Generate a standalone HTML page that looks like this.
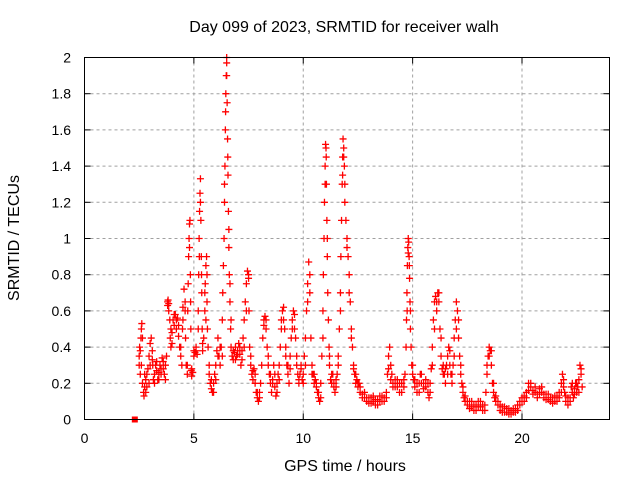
<!DOCTYPE html>
<html><head><meta charset="utf-8"><style>
body{margin:0;background:#fff}
svg{display:block;font-family:"Liberation Sans",sans-serif}
</style></head><body>
<svg id="chart" width="640" height="480" viewBox="0 0 640 480" xmlns="http://www.w3.org/2000/svg">
<rect width="640" height="480" fill="#fff"/>
<g id="grid"></g>
<g id="points"></g>
<rect x="84.5" y="57.5" width="525" height="362" fill="none" stroke="#000" stroke-width="1"/>
<g id="axes"></g>
<text x="344" y="32" font-size="16" text-anchor="middle">Day 099 of 2023, SRMTID for receiver walh</text>
<text x="345" y="471" font-size="16" text-anchor="middle">GPS time / hours</text>
<text transform="translate(19,238) rotate(-90)" font-size="16" text-anchor="middle">SRMTID / TECUs</text>
</svg>
<script>
const xTicks=[0,5,10,15,20];
const yTicks=[0,0.2,0.4,0.6,0.8,1,1.2,1.4,1.6,1.8,2];
const yTickLabels=["0","0.2","0.4","0.6","0.8","1","1.2","1.4","1.6","1.8","2"];
const times=[2.5,2.5,2.52,2.55,2.58,2.6,2.62,2.65,2.7,2.72,2.75,2.8,2.85,2.9,2.95,3.0,3.05,3.1,3.12,3.15,3.2,3.25,3.3,3.35,3.4,3.45,3.5,3.55,3.6,3.65,3.7,3.75,3.8,3.82,3.85,3.9,3.92,3.95,4.0,4.05,4.1,4.15,4.2,4.25,4.3,4.35,4.4,4.45,4.48,4.5,4.55,4.6,4.62,4.65,4.7,4.72,4.74,4.76,4.78,4.8,4.82,4.84,4.86,4.88,4.9,4.95,5.0,5.05,5.1,5.15,5.2,5.22,5.24,5.26,5.28,5.3,5.32,5.34,5.36,5.38,5.4,5.45,5.5,5.52,5.55,5.58,5.6,5.62,5.65,5.7,5.75,5.8,5.85,5.9,5.95,6.0,6.05,6.1,6.15,6.2,6.25,6.3,6.32,6.35,6.38,6.4,6.42,6.44,6.46,6.48,6.5,6.5,6.52,6.54,6.56,6.58,6.6,6.62,6.65,6.68,6.7,6.75,6.8,6.85,6.9,6.95,7.0,7.05,7.1,7.15,7.2,7.25,7.3,7.35,7.4,7.45,7.5,7.52,7.55,7.6,7.65,7.7,7.75,7.8,7.85,7.9,7.95,8.0,8.05,8.1,8.15,8.2,8.25,8.3,8.35,8.4,8.45,8.5,8.55,8.6,8.65,8.7,8.75,8.8,8.85,8.9,8.95,9.0,9.05,9.1,9.15,9.2,9.25,9.3,9.35,9.4,9.45,9.5,9.55,9.6,9.65,9.7,9.75,9.8,9.85,9.9,9.95,10.0,10.05,10.1,10.15,10.2,10.25,10.3,10.35,10.4,10.45,10.5,10.55,10.6,10.65,10.7,10.75,10.8,10.85,10.9,10.92,10.95,10.97,11.0,11.02,11.04,11.06,11.08,11.1,11.12,11.15,11.18,11.2,11.25,11.3,11.35,11.4,11.45,11.5,11.55,11.6,11.65,11.7,11.72,11.75,11.78,11.8,11.82,11.85,11.88,11.9,11.95,12.0,12.05,12.1,12.15,12.2,12.25,12.3,12.35,12.4,12.45,12.5,12.55,12.6,12.7,12.8,12.9,13.0,13.1,13.2,13.3,13.4,13.5,13.6,13.7,13.8,13.85,13.9,13.95,14.0,14.05,14.1,14.2,14.3,14.4,14.5,14.6,14.65,14.7,14.72,14.74,14.76,14.78,14.8,14.82,14.84,14.86,14.88,14.9,14.93,14.96,15.0,15.05,15.1,15.2,15.3,15.35,15.4,15.5,15.6,15.7,15.75,15.8,15.85,15.9,15.95,16.0,16.05,16.1,16.15,16.2,16.25,16.3,16.35,16.4,16.45,16.5,16.55,16.6,16.65,16.7,16.75,16.8,16.85,16.9,16.95,17.0,17.05,17.1,17.15,17.2,17.25,17.3,17.35,17.4,17.5,17.6,17.7,17.8,17.9,18.0,18.1,18.2,18.3,18.35,18.4,18.45,18.5,18.55,18.6,18.65,18.7,18.75,18.8,18.9,19.0,19.1,19.2,19.3,19.4,19.5,19.6,19.7,19.8,19.9,20.0,20.1,20.2,20.3,20.4,20.5,20.6,20.7,20.8,20.9,21.0,21.1,21.2,21.3,21.4,21.5,21.6,21.7,21.8,21.85,21.9,21.95,22.0,22.1,22.2,22.25,22.3,22.35,22.4,22.45,22.5,22.55,22.6,22.65,22.7,22.75];
const values=[0.3,0.35,0.4,0.25,0.45,0.5,0.53,0.2,0.15,0.13,0.18,0.22,0.25,0.28,0.35,0.42,0.45,0.38,0.3,0.22,0.25,0.3,0.27,0.22,0.26,0.3,0.28,0.34,0.32,0.25,0.3,0.35,0.65,0.66,0.64,0.55,0.45,0.4,0.48,0.55,0.52,0.58,0.5,0.56,0.46,0.4,0.35,0.3,0.5,0.62,0.72,0.6,0.45,0.3,0.25,0.6,0.75,0.9,1.0,1.08,1.1,0.8,0.5,0.27,0.24,0.26,0.38,0.37,0.4,0.36,0.6,0.8,1.0,1.15,1.25,1.33,1.1,0.9,0.7,0.5,0.38,0.45,0.6,0.75,0.85,0.9,0.65,0.5,0.4,0.3,0.2,0.17,0.15,0.2,0.25,0.3,0.38,0.45,0.35,0.3,0.4,0.55,0.7,0.85,1.0,1.2,1.4,1.6,1.8,1.9,2.0,1.97,1.75,1.55,1.35,1.15,0.95,0.8,0.65,0.5,0.4,0.35,0.33,0.37,0.4,0.35,0.38,0.42,0.36,0.3,0.38,0.45,0.55,0.65,0.75,0.82,0.8,0.6,0.4,0.3,0.25,0.22,0.28,0.2,0.15,0.12,0.1,0.15,0.2,0.3,0.45,0.55,0.57,0.5,0.4,0.3,0.25,0.2,0.15,0.22,0.3,0.18,0.13,0.2,0.25,0.3,0.4,0.5,0.6,0.62,0.5,0.4,0.3,0.25,0.2,0.35,0.45,0.55,0.6,0.58,0.45,0.3,0.25,0.2,0.25,0.3,0.22,0.25,0.35,0.45,0.6,0.75,0.87,0.7,0.45,0.3,0.25,0.2,0.22,0.18,0.15,0.12,0.1,0.2,0.35,0.6,0.8,1.0,1.2,1.4,1.52,1.5,1.3,1.1,0.9,0.7,0.55,0.4,0.3,0.22,0.2,0.25,0.2,0.15,0.18,0.25,0.35,0.5,0.7,0.9,1.1,1.3,1.45,1.55,1.5,1.4,1.2,1.1,1.0,0.9,0.8,0.65,0.5,0.4,0.3,0.25,0.2,0.22,0.18,0.2,0.15,0.14,0.12,0.1,0.09,0.12,0.1,0.08,0.11,0.1,0.13,0.1,0.15,0.25,0.35,0.4,0.3,0.25,0.2,0.22,0.18,0.2,0.15,0.18,0.25,0.4,0.55,0.7,0.85,0.95,1.0,0.98,0.9,0.78,0.65,0.5,0.4,0.3,0.25,0.22,0.18,0.2,0.15,0.25,0.2,0.17,0.22,0.15,0.12,0.2,0.28,0.4,0.55,0.65,0.68,0.6,0.7,0.65,0.5,0.35,0.28,0.3,0.25,0.2,0.3,0.35,0.4,0.3,0.25,0.2,0.3,0.45,0.55,0.65,0.6,0.45,0.35,0.25,0.2,0.15,0.12,0.1,0.08,0.1,0.07,0.05,0.08,0.1,0.07,0.05,0.08,0.15,0.25,0.35,0.4,0.38,0.3,0.2,0.15,0.12,0.1,0.08,0.05,0.07,0.04,0.06,0.03,0.05,0.04,0.06,0.08,0.1,0.12,0.1,0.15,0.2,0.18,0.16,0.15,0.14,0.17,0.15,0.12,0.14,0.11,0.1,0.12,0.1,0.13,0.15,0.2,0.25,0.22,0.15,0.1,0.08,0.12,0.18,0.15,0.12,0.17,0.2,0.15,0.18,0.22,0.3,0.25,0.18];
const times2=[2.55,2.6,2.65,2.75,2.8,2.85,2.95,3.0,3.1,3.2,3.3,3.4,3.5,3.6,3.7,3.8,3.85,3.95,4.0,4.1,4.2,4.3,4.4,4.5,4.6,4.7,4.8,4.85,4.9,5.0,5.1,5.2,5.25,5.3,5.35,5.4,5.5,5.55,5.6,5.7,5.8,5.9,6.0,6.1,6.2,6.3,6.4,6.45,6.5,6.55,6.6,6.65,6.7,6.8,6.9,7.0,7.1,7.2,7.3,7.4,7.5,7.6,7.7,7.8,7.9,8.0,8.2,8.3,8.4,8.5,8.6,8.7,8.8,8.9,9.0,9.1,9.2,9.3,9.4,9.5,9.6,9.7,9.8,9.9,10.0,10.1,10.2,10.3,10.4,10.5,10.6,10.7,10.8,10.9,11.0,11.05,11.1,11.2,11.3,11.4,11.5,11.6,11.7,11.8,11.85,11.9,12.0,12.1,12.2,12.3,12.4,12.5,12.6,12.7,12.8,12.9,13.0,13.1,13.2,13.3,13.4,13.5,13.6,13.7,13.8,13.9,14.0,14.1,14.2,14.3,14.4,14.5,14.6,14.75,14.8,14.85,14.9,15.0,15.1,15.2,15.3,15.4,15.5,15.6,15.7,15.8,15.9,16.0,16.1,16.2,16.3,16.4,16.5,16.6,16.7,16.8,16.9,17.0,17.1,17.2,17.3,17.4,17.5,17.6,17.7,17.8,17.9,18.0,18.1,18.2,18.3,18.4,18.5,18.6,18.7,18.8,18.9,19.0,19.1,19.2,19.3,19.4,19.5,19.6,19.7,19.8,19.9,20.0,20.1,20.2,20.3,20.4,20.5,20.6,20.7,20.8,20.9,21.0,21.1,21.2,21.3,21.4,21.5,21.6,21.7,21.8,21.9,22.0,22.1,22.2,22.3,22.4,22.5,22.6,22.7];
const values2=[0.38,0.3,0.45,0.25,0.15,0.18,0.2,0.3,0.33,0.2,0.32,0.22,0.25,0.28,0.22,0.63,0.6,0.5,0.42,0.58,0.55,0.52,0.4,0.55,0.65,0.3,0.95,0.65,0.28,0.35,0.38,0.5,0.9,1.2,0.8,0.42,0.7,0.55,0.8,0.25,0.22,0.15,0.22,0.35,0.4,0.35,1.3,1.7,1.9,1.45,1.05,0.75,0.55,0.38,0.33,0.36,0.4,0.33,0.4,0.6,0.78,0.35,0.27,0.25,0.15,0.12,0.52,0.55,0.35,0.25,0.2,0.25,0.15,0.22,0.55,0.55,0.35,0.3,0.28,0.5,0.5,0.35,0.22,0.28,0.2,0.3,0.65,0.8,0.25,0.25,0.2,0.15,0.12,0.45,1.3,1.45,1.0,0.35,0.25,0.18,0.22,0.3,0.6,1.35,1.45,1.3,0.95,0.7,0.45,0.28,0.25,0.2,0.18,0.12,0.15,0.12,0.12,0.09,0.13,0.11,0.08,0.13,0.1,0.12,0.12,0.28,0.22,0.18,0.18,0.22,0.15,0.2,0.22,0.6,0.92,0.85,0.6,0.3,0.22,0.15,0.2,0.25,0.2,0.18,0.2,0.15,0.3,0.5,0.65,0.7,0.45,0.25,0.28,0.25,0.38,0.25,0.35,0.5,0.55,0.3,0.18,0.13,0.1,0.06,0.1,0.08,0.05,0.07,0.1,0.08,0.05,0.3,0.35,0.38,0.2,0.13,0.1,0.08,0.04,0.07,0.04,0.06,0.03,0.06,0.04,0.05,0.08,0.1,0.13,0.12,0.16,0.2,0.14,0.18,0.12,0.14,0.18,0.14,0.11,0.14,0.12,0.09,0.13,0.1,0.12,0.15,0.18,0.13,0.12,0.1,0.2,0.14,0.2,0.15,0.28];
const outlierTimes=[2.3];
const outlierValues=[0];

const NS="http://www.w3.org/2000/svg";
const X0=84.5,X1=609.5,Y0=419.5,Y1=57.5,XMAX=24,YMAX=2;
function xs(t){return X0+(X1-X0)*t/XMAX;}
function ys(v){return Y0-(Y0-Y1)*v/YMAX;}
function mk(tag,attrs,parent){const e=document.createElementNS(NS,tag);for(const k in attrs)e.setAttribute(k,attrs[k]);parent.appendChild(e);return e;}
const grid=document.getElementById('grid'),axes=document.getElementById('axes'),pts=document.getElementById('points');
xTicks.forEach((t,i)=>{
  const x=xs(t);
  if(t>0){const g=mk('line',{x1:x,x2:x,y1:Y0,y2:Y1,stroke:'#a0a0a0','stroke-dasharray':'3,3'},grid);
  
  }
  const a=mk('line',{x1:x,x2:x,y1:Y0,y2:Y0-6,stroke:'#000'},axes);
  
  
  const b=mk('line',{x1:x,x2:x,y1:Y1,y2:Y1+6,stroke:'#000'},axes);
  
  
  const tx=mk('text',{x:x,y:443,'font-size':14,'text-anchor':'middle'},axes);
  tx.textContent=String(t);
  
  
});
yTicks.forEach((v,i)=>{
  const y=ys(v);
  if(v>0&&v<YMAX){const g=mk('line',{x1:X0,x2:X1,y1:y,y2:y,stroke:'#a0a0a0','stroke-dasharray':'3,3'},grid);
  
  }
  const a=mk('line',{x1:X0,x2:X0+6,y1:y,y2:y,stroke:'#000'},axes);
  
  
  const b=mk('line',{x1:X1,x2:X1-6,y1:y,y2:y,stroke:'#000'},axes);
  
  
  const tx=mk('text',{x:71,y:y+5,'font-size':14,'text-anchor':'end'},axes);
  tx.textContent=yTickLabels[i];
  
  
});
let d='';
times.forEach((t,i)=>{const x=xs(t),y=ys(values[i]);d+=`M${x-3.5},${y}h7M${x},${y-3.5}v7`;});
times2.forEach((t,i)=>{const x=xs(t),y=ys(values2[i]);d+=`M${x-3.5},${y}h7M${x},${y-3.5}v7`;});
const p=mk('path',{d:d,stroke:'#ff0000','stroke-width':1.3,fill:'none'},pts);


outlierTimes.forEach((t,i)=>{
  const r=mk('rect',{x:xs(t)-3,y:ys(outlierValues[i])-3,width:6,height:6,fill:'#ff0000'},pts);
  
  
});
</script>
</body></html>
